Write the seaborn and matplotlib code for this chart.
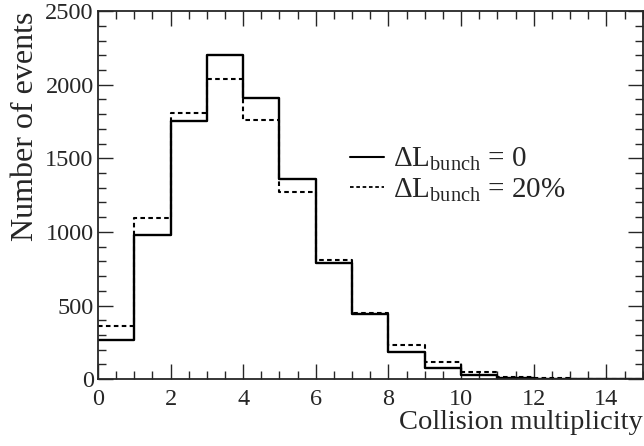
import numpy as np
import pandas as pd
import matplotlib
matplotlib.use("Agg")
import matplotlib.pyplot as plt
import seaborn as sns
from matplotlib.lines import Line2D
from matplotlib.ticker import MultipleLocator

bin_edges = list(range(0, 16))
solid_counts = [268, 980, 1753, 2200, 1910, 1360, 790, 445, 183, 75, 25, 7, 3, 1, 0]
dashed_counts = [364, 1097, 1805, 2040, 1760, 1270, 810, 450, 235, 113, 48, 14, 6, 3, 1]
labels = [r"$\Delta\mathrm{L}_{\mathrm{bunch}}$ = 0", r"$\Delta\mathrm{L}_{\mathrm{bunch}}$ = 20%"]

sns.set_style("ticks")
plt.rcParams["font.family"] = ["Liberation Serif", "DejaVu Serif"]
plt.rcParams["mathtext.fontset"] = "custom"
plt.rcParams["mathtext.rm"] = "Liberation Serif"
plt.rcParams["mathtext.it"] = "Liberation Serif:italic"

centers = [e + 0.5 for e in bin_edges[:-1]]
df = pd.DataFrame({
    "x": centers * 2,
    "w": solid_counts + dashed_counts,
    "s": ["a"] * len(centers) + ["b"] * len(centers),
})

fig = plt.figure(figsize=(6.44, 4.46), dpi=100)
ax = fig.add_axes([0.152, 0.15, 0.846, 0.825])

dash = (0, (2.2, 1.6))
sns.histplot(data=df[df.s == "b"], x="x", weights="w", bins=bin_edges, element="step",
             fill=False, color="black", linestyle=dash, linewidth=1.5, ax=ax)
sns.histplot(data=df[df.s == "a"], x="x", weights="w", bins=bin_edges, element="step",
             fill=False, color="black", linewidth=1.7, ax=ax)

ax.set_xlim(0, 15)
ax.set_ylim(0, 2500)
ax.xaxis.set_major_locator(MultipleLocator(2))
ax.xaxis.set_minor_locator(MultipleLocator(0.5))
ax.yaxis.set_major_locator(MultipleLocator(500))
ax.yaxis.set_minor_locator(MultipleLocator(100))
ax.tick_params(which="both", direction="in", top=True, right=True, labelsize=17.5, width=1.0)
ax.tick_params(which="major", length=11)
ax.tick_params(which="minor", length=6)
ax.tick_params(axis="x", pad=7)
ax.tick_params(axis="y", pad=3)
for sp in ax.spines.values():
    sp.set_linewidth(1.3)

ax.set_xlabel("Collision multiplicity", fontsize=20.5, loc="right", labelpad=0)
ax.set_ylabel("Number of events", fontsize=23, loc="top", labelpad=4)

handles = [Line2D([], [], color="black", linewidth=1.5),
           Line2D([], [], color="black", linewidth=1.3, linestyle=(0, (2, 1.5)))]
ax.legend(handles, labels, loc="upper left", bbox_to_anchor=(0.415, 0.705), frameon=False,
          fontsize=21, handlelength=1.15, handletextpad=0.3, labelspacing=0.12)

fig.savefig("out.png", dpi=100)
